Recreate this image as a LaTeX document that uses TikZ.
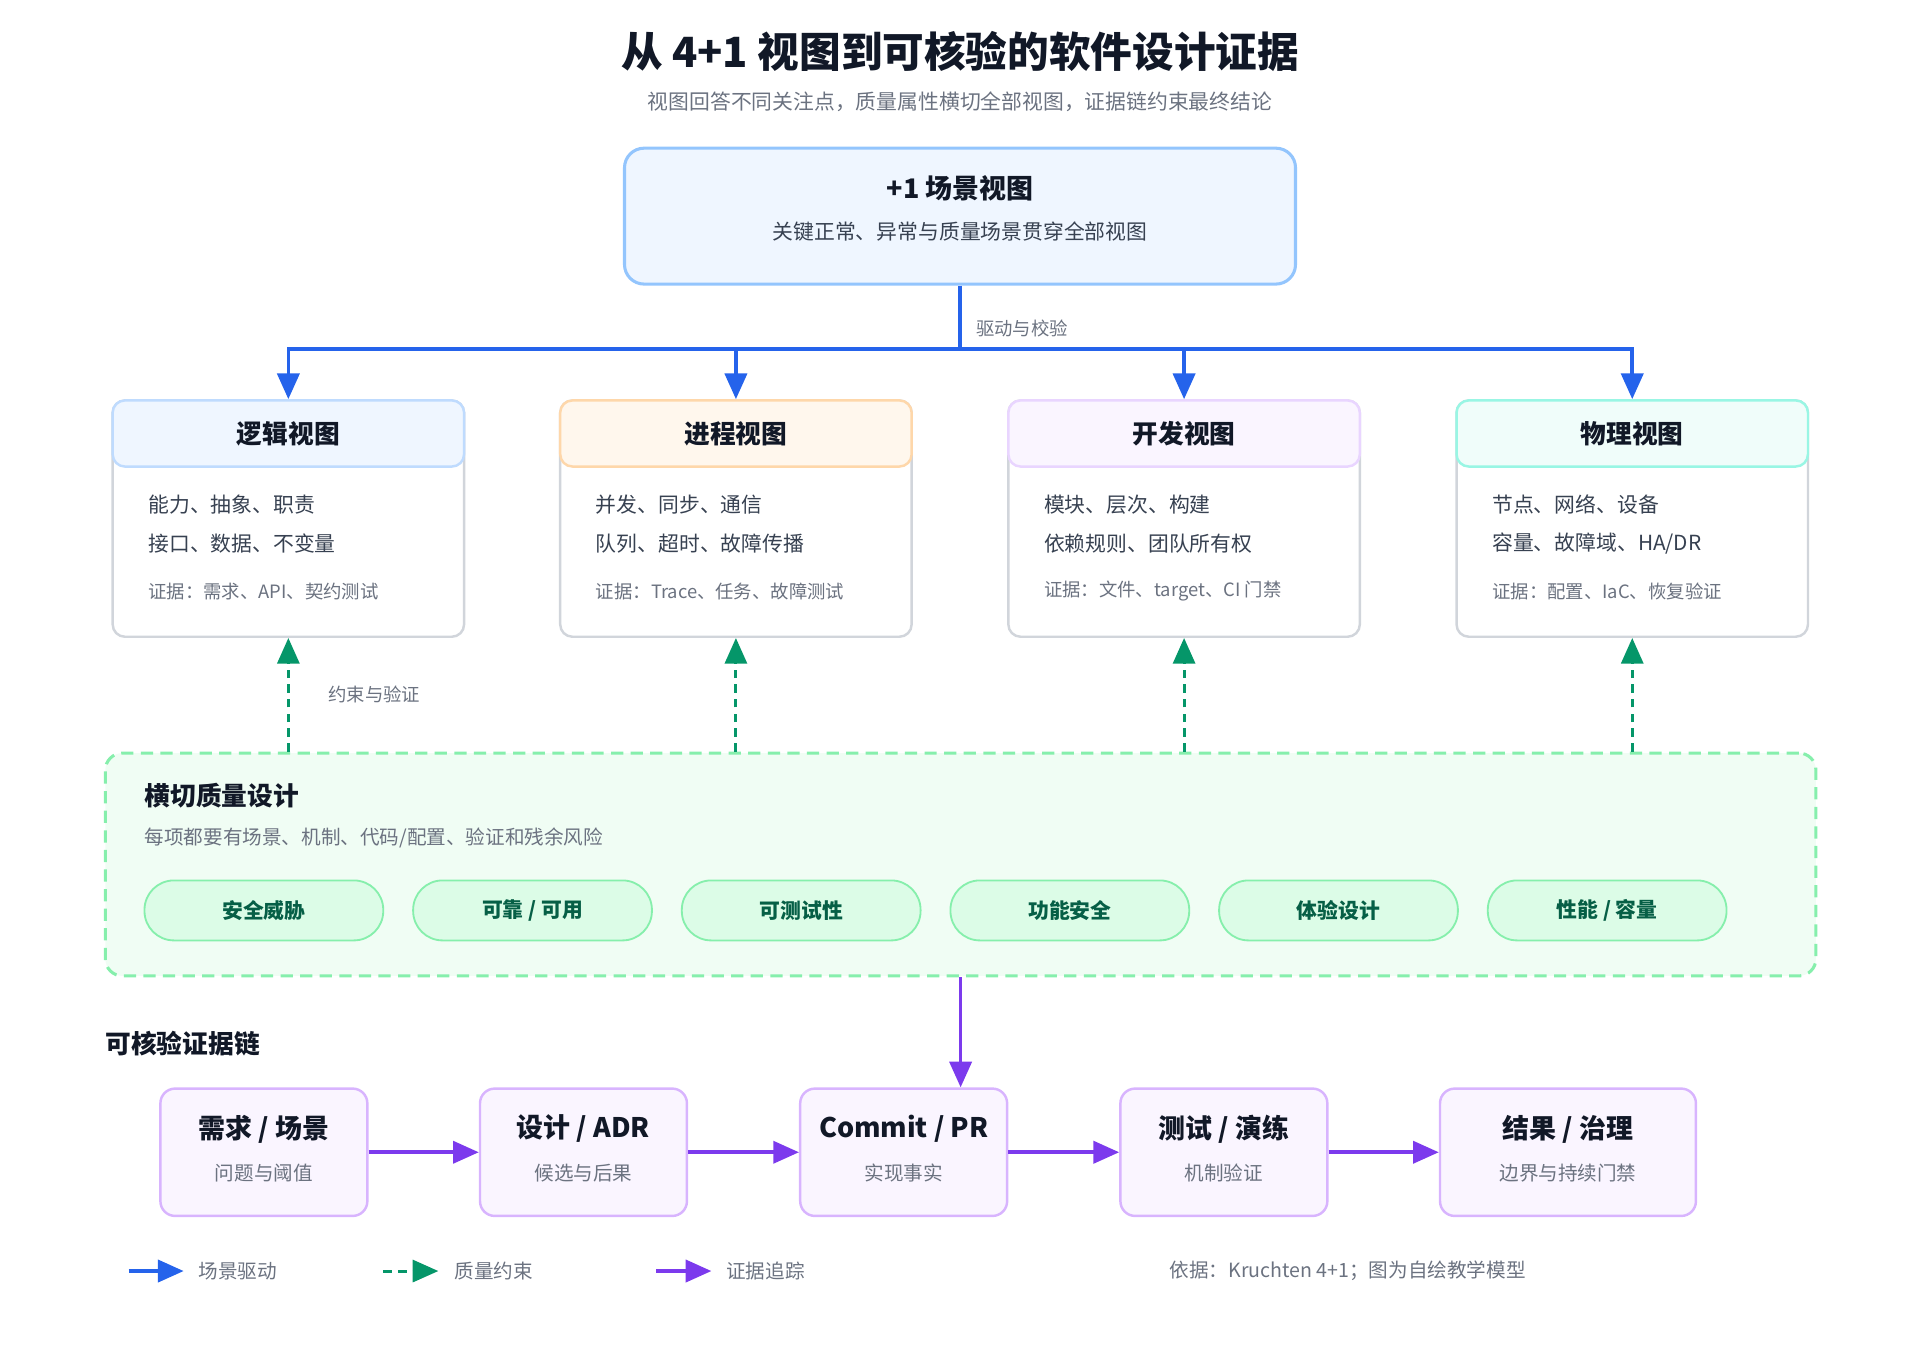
\documentclass[tikz,border=0pt]{standalone}
\usepackage{fontspec}
\setmainfont{Noto Sans CJK SC}
\usetikzlibrary{positioning,arrows.meta}
\definecolor{ink}{HTML}{111827}
\definecolor{bodyink}{HTML}{374151}
\definecolor{muted}{HTML}{6B7280}
\definecolor{scenblue}{HTML}{2563EB}
\definecolor{qgreen}{HTML}{059669}
\definecolor{tracepurple}{HTML}{7C3AED}
\definecolor{topfill}{HTML}{EFF6FF}
\definecolor{topedge}{HTML}{93C5FD}
\definecolor{logicfill}{HTML}{EFF6FF}
\definecolor{logicedge}{HTML}{BFDBFE}
\definecolor{procfill}{HTML}{FFF7ED}
\definecolor{procedge}{HTML}{FED7AA}
\definecolor{devfill}{HTML}{FAF5FF}
\definecolor{devedge}{HTML}{E9D5FF}
\definecolor{physfill}{HTML}{F0FDFA}
\definecolor{physedge}{HTML}{99F6E4}
\definecolor{viewedge}{HTML}{D1D5DB}
\definecolor{qualfill}{HTML}{F0FDF4}
\definecolor{qualedge}{HTML}{86EFAC}
\definecolor{pillfill}{HTML}{DCFCE7}
\definecolor{pilltext}{HTML}{065F46}
\definecolor{chainfill}{HTML}{FAF5FF}
\definecolor{chainedge}{HTML}{D8B4FE}
\newcommand{\setsize}[1]{\fontsize{#1}{#1}\selectfont}

\begin{document}
\begin{tikzpicture}[x=1pt, y=-1pt,
    every node/.style = {inner sep=0pt, text=ink, font=\setsize{16}},
    tip/.style = {-{Triangle[length=21pt, width=18pt]}},
    drive/.style = {draw=scenblue, line width=3pt},
    constrain/.style = {draw=qgreen, line width=2.5pt, dash pattern=on 7pt off 5pt, tip},
    trace/.style = {draw=tracepurple, line width=3pt, tip},
    muted text/.style = {text=muted, font=\setsize{15}},
    topbox/.style = {draw=topedge, fill=topfill, line width=2.5pt, rounded corners=16pt, minimum width=548pt, minimum height=111pt},
    viewbox/.style = {draw=viewedge, fill=white, line width=2pt, rounded corners=10pt, minimum width=287pt, minimum height=193pt},
    viewhead/.style = {line width=2pt, rounded corners=10pt, minimum width=287pt, minimum height=54pt, font=\bfseries\setsize{21}},
    qualbox/.style = {draw=qualedge, fill=qualfill, line width=2.5pt, dash pattern=on 10pt off 6pt, rounded corners=14pt, minimum width=1397pt, minimum height=182pt},
    pill/.style = {draw=qualedge, fill=pillfill, line width=1.5pt, rounded corners=24pt, minimum width=195pt, minimum height=49pt, text=pilltext, font=\bfseries\setsize{17}},
    chainbox/.style = {draw=chainedge, fill=chainfill, line width=2pt, rounded corners=12pt, minimum width=169pt, minimum height=104pt}]
    \useasboundingbox (0,0) rectangle (1568,1098);

    % title
    \node (title) at (784,42) {\bfseries\setsize{34}从 4+1 视图到可核验的软件设计证据};
    \node[muted text, font=\setsize{17}] (subtitle) at (784,83) {视图回答不同关注点，质量属性横切全部视图，证据链约束最终结论};

    % +1 scenario view
    \node[topbox] (scene) at (784,176.5) {};
    \node[font=\bfseries\setsize{22}] (scenetitle) at (784,154) {+1 场景视图};
    \node[text=bodyink, font=\setsize{17}] (scenesub) at (784,189) {关键正常、异常与质量场景贯穿全部视图};

    \coordinate (bus) at (784,285);
    \draw[drive] (scene.south) -- (bus);
    \node[muted text, anchor=west] (drivelabel) at (797,268) {驱动与校验};

    % the four views
    \foreach \n/\cx/\hf/\hd/\t/\la/\lb/\ev in {
        logic/235.5/logicfill/logicedge/{逻辑视图}/{能力、抽象、职责}/{接口、数据、不变量}/{证据：需求、API、契约测试},
        proc/601/procfill/procedge/{进程视图}/{并发、同步、通信}/{队列、超时、故障传播}/{证据：Trace、任务、故障测试},
        dev/967/devfill/devedge/{开发视图}/{模块、层次、构建}/{依赖规则、团队所有权}/{证据：文件、target、CI 门禁},
        phys/1333/physfill/physedge/{物理视图}/{节点、网络、设备}/{容量、故障域、{HA/DR}}/{证据：配置、IaC、恢复验证}} {
        \node[viewbox] (\n) at (\cx,423.5) {};
        \node[viewhead, fill=\hf, draw=\hd] (\n-head) at (\cx,354) {\t};
        \node[anchor=west, text=bodyink, font=\setsize{17}] (\n-a) at ({\cx-114.5},412) {\la};
        \node[anchor=west, text=bodyink, font=\setsize{17}] (\n-b) at ({\cx-114.5},444) {\lb};
        \node[anchor=west, muted text] (\n-ev) at ({\cx-114.5},483) {\ev};
        \draw[drive, tip] (bus) -| (\n-head.north);
    }

    % cross-cutting quality
    \node[qualbox] (quality) at (784.5,706) {};
    \node[anchor=west, font=\bfseries\setsize{21}] (qualtitle) at (118,650) {横切质量设计};
    \node[anchor=west, muted text, font=\setsize{16}] (qualsub) at (118,684) {每项都要有场景、机制、代码/配置、验证和残余风险};
    \foreach \t [count=\i] in {安全威胁, {可靠 / 可用}, 可测试性, 功能安全, 体验设计, {性能 / 容量}}
        \node[pill] (pill\i) at ({215.5+219.4*(\i-1)},743.5) {\t};

    \foreach \n in {logic, proc, dev, phys}
        \draw[constrain] (\n.south |- quality.north) -- (\n.south);
    \node[muted text, anchor=west] (constrainlabel) at (268,567) {约束与验证};

    % evidence chain
    \node[anchor=west, font=\bfseries\setsize{21}] (chaintitle) at (86,852) {可核验证据链};
    \foreach \n/\cx/\w/\t/\s in {
        req/215.5/169/{需求 / 场景}/{问题与阈值},
        adr/476.5/169/{设计 / ADR}/{候选与后果},
        commit/738/169/{Commit / PR}/{实现事实},
        test/999.5/169/{测试 / 演练}/{机制验证},
        result/1280.5/209/{结果 / 治理}/{边界与持续门禁}} {
        \node[chainbox, minimum width=\w] (\n) at (\cx,941) {};
        \node[font=\bfseries\setsize{22}] (\n-title) at (\cx,922) {\t};
        \node[muted text, font=\setsize{16}] (\n-sub) at (\cx,958) {\s};
    }
    \draw[trace] (quality.south) -- (quality.south |- commit.north);
    \draw[trace] (req.east) -- (adr.west);
    \draw[trace] (adr.east) -- (commit.west);
    \draw[trace] (commit.east) -- (test.west);
    \draw[trace] (test.east) -- (result.west);

    % legend
    \node[muted text, font=\setsize{16}, anchor=west] (lgdrive) at (162,1038) {场景驱动};
    \node[muted text, font=\setsize{16}, anchor=west] (lgqual) at (371,1038) {质量约束};
    \node[muted text, font=\setsize{16}, anchor=west] (lgtrace) at (593,1038) {证据追踪};
    \coordinate (lgdrive-start) at (105,1038);
    \coordinate (lgqual-start) at (313,1038);
    \coordinate (lgtrace-start) at (536,1038);
    \draw[drive, tip] (lgdrive-start) -- ([xshift=-12pt]lgdrive.west);
    \draw[constrain] (lgqual-start) -- ([xshift=-13pt]lgqual.west);
    \draw[trace] (lgtrace-start) -- ([xshift=-12pt]lgtrace.west);
    \node[muted text, font=\setsize{16}, anchor=west] (source) at (955,1038) {依据：Kruchten 4+1；图为自绘教学模型};
\end{tikzpicture}
\end{document}
